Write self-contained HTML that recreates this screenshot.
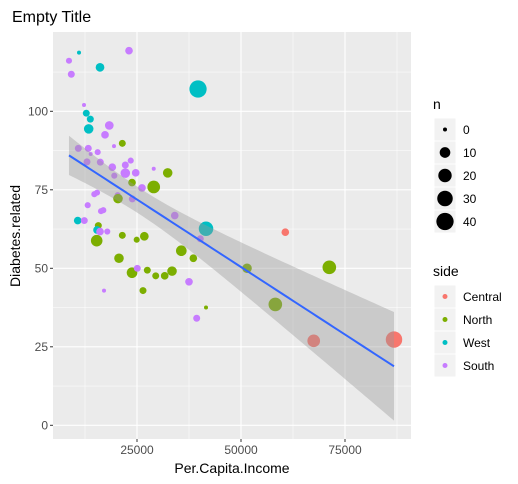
<!DOCTYPE html>
<html><head><meta charset="utf-8">
<style>
body{margin:0;background:#fff;font-family:"Liberation Sans",Arial,sans-serif}
svg{display:block}
</style></head>
<body>
<svg id="chart" width="518" height="484" xmlns="http://www.w3.org/2000/svg" font-family="Liberation Sans, Arial, sans-serif">
<rect width="518" height="484" fill="#fff"/>
<text x="12" y="22" font-size="16" fill="#000">Empty Title</text>
<text transform="translate(20,236) rotate(-90)" text-anchor="middle" font-size="14" fill="#000">Diabetes.related</text>
<text x="232" y="473" text-anchor="middle" font-size="14" fill="#000">Per.Capita.Income</text>
<g id="panel"></g>
<g id="legend"></g>
</svg>
<script>
const incomes=[8650,11060,23080,9210,16110,39670,12260,12810,13780,13390,18340,17310,21470,19470,10890,13290,15550,13870,12980,16180,23490,19060,22190,22190,24690,29020,32380,19540,23800,29020,26200,14740,15390,20360,20430,23870,13150,34070,16350,16900,10750,12330,41590,40220,15700,15390,16110,17860,15310,21470,26760,24930,35650,38540,20670,23800,25070,27480,29500,31660,33420,17070,26440,37500,41590,39350,51450,60650,71230,58250,67480,86780];
const diabetes=[116.1,118.7,119.3,111.8,114.0,107.1,102.0,99.4,97.5,94.4,95.5,92.5,89.8,88.9,88.2,88.2,87.0,86.4,83.9,83.8,84.3,82.2,82.9,80.3,80.4,81.7,80.4,79.5,77.3,75.9,75.6,73.6,74.1,73.3,72.2,72.1,70.1,66.8,68.2,68.5,65.2,65.2,62.6,59.4,63.6,62.2,61.7,61.7,58.8,60.5,60.2,59.1,55.6,53.2,53.2,48.6,50.0,49.4,47.6,47.6,49.1,42.9,42.9,45.7,37.5,34.1,50.0,61.5,50.3,38.5,26.9,27.3];
const counts=[1,0,3,2,5,40,0,2,2,7,5,3,2,0,2,2,1,0,2,2,1,3,2,7,3,0,7,1,3,17,3,1,1,1,7,2,1,3,1,1,3,2,25,2,2,3,3,1,13,2,5,1,10,3,7,10,2,2,2,3,7,0,2,3,0,2,7,3,21,21,17,35];
const sides=["South","West","South","South","West","West","South","West","West","West","South","South","North","South","South","South","South","South","South","South","South","South","South","South","South","South","North","South","North","North","South","South","South","South","North","South","South","South","South","South","West","South","West","South","North","West","South","South","North","North","North","North","North","North","North","North","South","North","North","North","North","South","North","South","North","South","North","Central","North","North","Central","Central"];
const xTicks=[25000,50000,75000];
const yTicks=[0,25,50,75,100];
const sideLevels=["Central","North","West","South"];
const sizeBreaks=[0,10,20,30,40];

const NS="http://www.w3.org/2000/svg";
const colors={Central:"#F8766D",North:"#7CAE00",West:"#00BFC4",South:"#C77CFF"};
const P={l:53,r:411,t:32,b:439};
const xS=v=>33+v*104/25000;
const yS=v=>425.3-v*3.14;
const rS=n=>2+Math.sqrt(n)*1.05;
function mk(tag,attrs,parent){const e=document.createElementNS(NS,tag);for(const k in attrs)e.setAttribute(k,attrs[k]);parent.appendChild(e);return e;}
const panel=document.getElementById('panel');
const bg=mk('rect',{x:P.l,y:P.t,width:P.r-P.l,height:P.b-P.t,fill:'#EBEBEB'},panel);


xTicks.forEach((t,i)=>{const m=t-12500;const x=xS(m);if(x>P.l)mk('line',{x1:x,x2:x,y1:P.t,y2:P.b,stroke:'#fff','stroke-width':0.5},panel);});
{const x=xS(xTicks[xTicks.length-1]+12500);if(x<P.r)mk('line',{x1:x,x2:x,y1:P.t,y2:P.b,stroke:'#fff','stroke-width':0.5},panel);}
yTicks.forEach(t=>{const y=yS(t+12.5);if(y>P.t)mk('line',{x1:P.l,x2:P.r,y1:y,y2:y,stroke:'#fff','stroke-width':0.5},panel);});
xTicks.forEach(t=>{const x=xS(t);
const g=mk('line',{x1:x,x2:x,y1:P.t,y2:P.b,stroke:'#fff','stroke-width':1.1},panel);


mk('line',{x1:x,x2:x,y1:P.b,y2:P.b+3,stroke:'#333','stroke-width':1},panel);
const tx=mk('text',{x:x,y:P.b+15,'text-anchor':'middle','font-size':12,fill:'#4D4D4D'},panel);tx.textContent=t;


});
yTicks.forEach(t=>{const y=yS(t);
const g=mk('line',{x1:P.l,x2:P.r,y1:y,y2:y,stroke:'#fff','stroke-width':1.1},panel);


mk('line',{x1:P.l-3,x2:P.l,y1:y,y2:y,stroke:'#333','stroke-width':1},panel);
const tx=mk('text',{x:P.l-5,y:y+4,'text-anchor':'end','font-size':12,fill:'#4D4D4D'},panel);tx.textContent=t;


});
incomes.forEach((v,i)=>{
const c=mk('circle',{cx:xS(v),cy:yS(diabetes[i]),r:rS(counts[i]),fill:colors[sides[i]]},panel);


});
const N=incomes.length;const mx=incomes.reduce((a,b)=>a+b)/N;const my=diabetes.reduce((a,b)=>a+b)/N;
let sxx=0,sxy=0;for(let i=0;i<N;i++){sxx+=(incomes[i]-mx)**2;sxy+=(incomes[i]-mx)*(diabetes[i]-my);}
const b1=sxy/sxx,b0=my-b1*mx;let sse=0;for(let i=0;i<N;i++)sse+=(diabetes[i]-b0-b1*incomes[i])**2;
const s=Math.sqrt(sse/(N-2));const tq=1.994;
const xmin=Math.min(...incomes),xmax=Math.max(...incomes);
let up=[],lo=[],ln=[];
for(let k=0;k<=80;k++){const x=xmin+(xmax-xmin)*k/80;const f=b0+b1*x;const se=s*Math.sqrt(1/N+(x-mx)**2/sxx);
up.push(xS(x)+','+yS(f+tq*se));lo.unshift(xS(x)+','+yS(f-tq*se));ln.push(xS(x)+','+yS(f));}
const rib=mk('polygon',{points:up.concat(lo).join(' '),fill:'#999','fill-opacity':0.4},panel);


const fl=mk('polyline',{points:ln.join(' '),fill:'none',stroke:'#3366FF','stroke-width':2},panel);


const lg=document.getElementById('legend');
const t1=mk('text',{x:433,y:109,'font-size':14,fill:'#000'},lg);t1.textContent='n';


sizeBreaks.forEach((n,i)=>{const y=118+i*23;
mk('rect',{x:434,y:y,width:22,height:23,fill:'#F2F2F2',stroke:'#fff'},lg);
const c=mk('circle',{cx:445,cy:y+11.5,r:rS(n),fill:'#000'},lg);


const tx=mk('text',{x:463,y:y+16,'font-size':12,fill:'#000'},lg);tx.textContent=n;


});
const t2=mk('text',{x:433,y:276,'font-size':14,fill:'#000'},lg);t2.textContent='side';


sideLevels.forEach((sd,i)=>{const y=285+i*23;
mk('rect',{x:434,y:y,width:22,height:23,fill:'#F2F2F2',stroke:'#fff'},lg);
const c=mk('circle',{cx:445,cy:y+11.5,r:2.5,fill:colors[sd]},lg);


const tx=mk('text',{x:463,y:y+16,'font-size':12,fill:'#000'},lg);tx.textContent=sd;


});
</script>
</body></html>
